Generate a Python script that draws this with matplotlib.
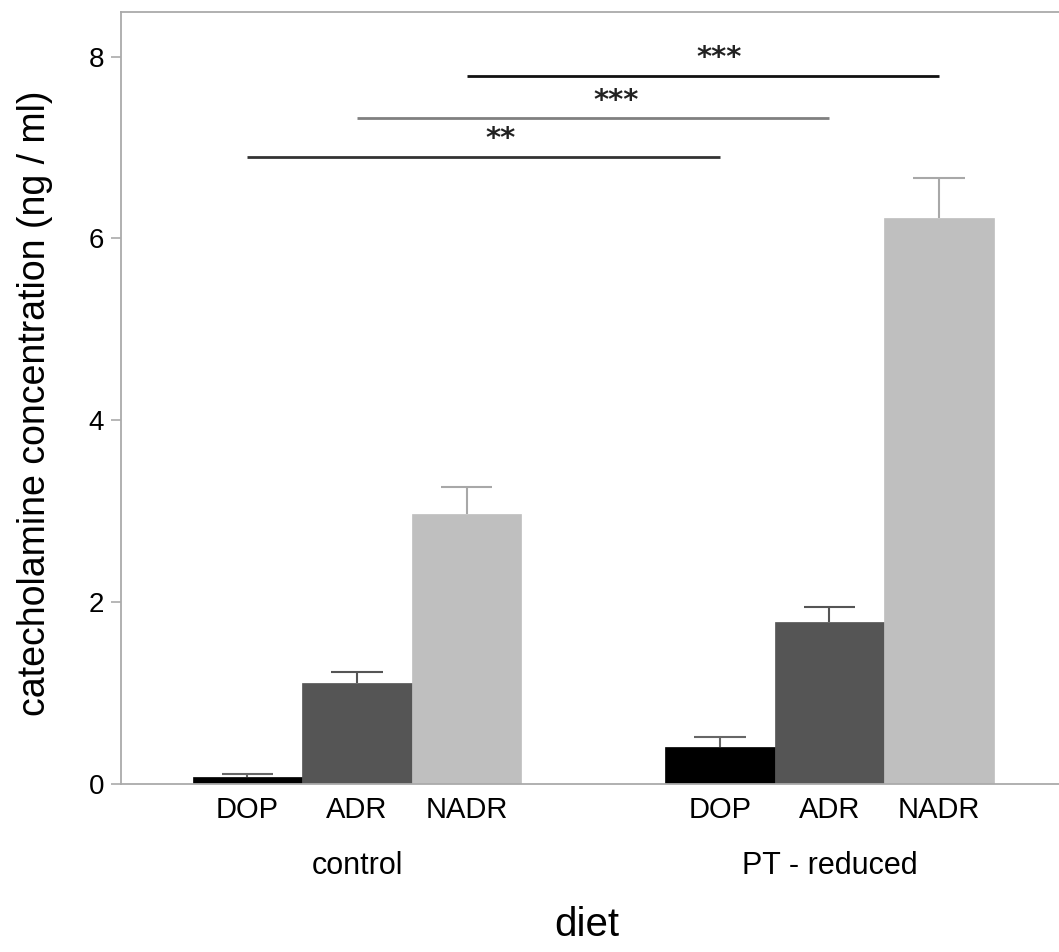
import numpy as np
import matplotlib
matplotlib.use("Agg")
import matplotlib.pyplot as plt

plt.rcParams['font.family'] = ['Liberation Sans', 'DejaVu Sans']

# data
groups = ["control", "PT - reduced"]
hormones = ["DOP", "ADR", "NADR"]
control_mean = [0.08, 1.11, 2.97]
control_err = [0.03, 0.12, 0.30]
pt_mean = [0.41, 1.78, 6.22]
pt_err = [0.11, 0.17, 0.44]

# significance brackets: same hormone, control vs PT-reduced
sig_labels = ["**", "***", "***"]
sig_height = [6.90, 7.32, 7.79]
sig_text_x = [2.17, 3.16, 4.10]

bar_colors = ["#000000", "#555555", "#bfbfbf"]
err_colors = ["#666666", "#555555", "#a8a8a8"]
sig_colors = ["#333333", "#808080", "#111111"]

group_offset = [0.0, 4.313]
cap_half = 0.235

fig = plt.figure(figsize=(10.59, 9.52), dpi=100)
ax = fig.add_axes([121 / 1059, 168 / 952, 938 / 1059, 772 / 952])

all_x, all_lab = [], []
for g, (means, errs) in enumerate([(control_mean, control_err), (pt_mean, pt_err)]):
    xs = group_offset[g] + np.arange(len(hormones))
    ax.bar(xs, means, width=1.0, color=bar_colors, edgecolor=bar_colors, linewidth=0.5, zorder=2)
    tops = np.array(means) + np.array(errs)
    # upper error bars only
    ax.vlines(xs, means, tops, colors=err_colors, lw=1.5, zorder=1)
    ax.hlines(tops, xs - cap_half, xs + cap_half, colors=err_colors, lw=1.5, zorder=1)
    all_x.extend(xs)
    all_lab.extend(hormones)

for i in range(len(sig_labels)):
    x0 = group_offset[0] + i
    x1 = group_offset[1] + i
    ax.plot([x0, x1], [sig_height[i]] * 2, color=sig_colors[i], lw=2, solid_capstyle='butt')
    ax.text(sig_text_x[i], sig_height[i] + 0.19, sig_labels[i], ha='left', va='center',
            fontsize=21, family=['DejaVu Sans'], fontweight='bold', color='#222222')

ax.set_xlim(-1.155, 7.41)
ax.set_ylim(0, 8.49)
ax.set_yticks([0, 2, 4, 6, 8])
ax.set_xticks(all_x)
ax.set_xticklabels(all_lab, fontsize=21)
ax.tick_params(axis='x', length=0, pad=9)
ax.tick_params(axis='y', length=7, width=1.2, color='#aaaaaa', labelsize=20, pad=5)

for s in ['left', 'bottom', 'top']:
    ax.spines[s].set_color('#aaaaaa')
    ax.spines[s].set_linewidth(1.3)
ax.spines['right'].set_visible(False)

trans = ax.get_xaxis_transform()
for g, name in enumerate(groups):
    ax.text(group_offset[g] + 1, -0.106, name, transform=trans, ha='center', va='center',
            fontsize=22)

fig.text(587 / 1059, 1 - 925 / 952, "diet", ha='center', va='center', fontsize=29)
fig.text(35 / 1059, 1 - 403 / 952, "catecholamine concentration (ng / ml)", rotation=90,
         ha='center', va='center', fontsize=27)

fig.savefig("out.png", dpi=100)
